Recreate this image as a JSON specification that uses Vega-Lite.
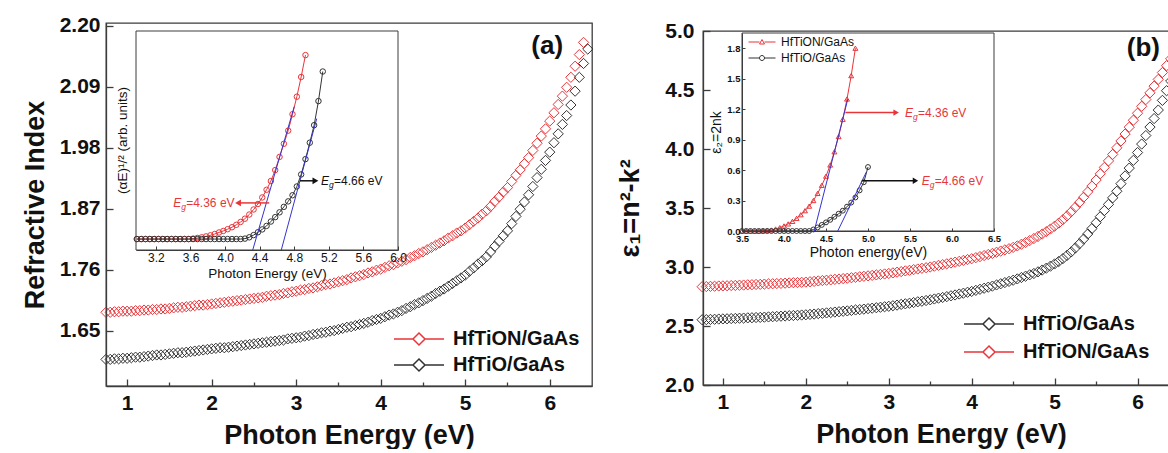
{
"$schema": "https://vega.github.io/schema/vega-lite/v6.json",
"background": "white",
"padding": {"left": 20, "top": 14, "right": 0, "bottom": 0},
"spacing": 20,
"config": {
  "font": "Liberation Sans",
  "view": {"stroke": "#3c3c3c", "strokeWidth": 1.3},
  "axis": {"grid": false, "domainColor": "#3c3c3c", "tickColor": "#3c3c3c", "labelColor": "#111111", "titleColor": "#111111", "labelFont": "Liberation Sans", "titleFont": "Liberation Sans", "labelFlush": false, "labelOverlap": false, "labelBound": false, "domainWidth": 1.3, "tickWidth": 1.3},
  "text": {"font": "Liberation Sans"},
  "legend": {"labelFont": "Liberation Sans"}
},
"datasets": {
"main": [
{"e":0.75,"a1":1.683,"a2":1.598,"b1":2.833,"b2":2.553},
{"e":0.80,"a1":1.683,"a2":1.598,"b1":2.834,"b2":2.554},
{"e":0.85,"a1":1.684,"a2":1.599,"b1":2.836,"b2":2.556},
{"e":0.90,"a1":1.684,"a2":1.599,"b1":2.837,"b2":2.557},
{"e":0.95,"a1":1.685,"a2":1.600,"b1":2.839,"b2":2.559},
{"e":1.00,"a1":1.685,"a2":1.600,"b1":2.840,"b2":2.560},
{"e":1.05,"a1":1.685,"a2":1.601,"b1":2.841,"b2":2.561},
{"e":1.10,"a1":1.686,"a2":1.602,"b1":2.843,"b2":2.563},
{"e":1.15,"a1":1.686,"a2":1.602,"b1":2.844,"b2":2.564},
{"e":1.20,"a1":1.687,"a2":1.603,"b1":2.846,"b2":2.566},
{"e":1.25,"a1":1.687,"a2":1.604,"b1":2.847,"b2":2.567},
{"e":1.30,"a1":1.688,"a2":1.605,"b1":2.849,"b2":2.569},
{"e":1.35,"a1":1.688,"a2":1.606,"b1":2.850,"b2":2.570},
{"e":1.40,"a1":1.689,"a2":1.606,"b1":2.852,"b2":2.572},
{"e":1.45,"a1":1.689,"a2":1.607,"b1":2.853,"b2":2.573},
{"e":1.50,"a1":1.690,"a2":1.608,"b1":2.855,"b2":2.575},
{"e":1.55,"a1":1.691,"a2":1.609,"b1":2.857,"b2":2.577},
{"e":1.60,"a1":1.692,"a2":1.610,"b1":2.858,"b2":2.579},
{"e":1.65,"a1":1.692,"a2":1.610,"b1":2.860,"b2":2.581},
{"e":1.70,"a1":1.693,"a2":1.611,"b1":2.861,"b2":2.583},
{"e":1.75,"a1":1.694,"a2":1.612,"b1":2.863,"b2":2.585},
{"e":1.80,"a1":1.695,"a2":1.613,"b1":2.865,"b2":2.587},
{"e":1.85,"a1":1.696,"a2":1.614,"b1":2.867,"b2":2.589},
{"e":1.90,"a1":1.696,"a2":1.615,"b1":2.868,"b2":2.591},
{"e":1.95,"a1":1.697,"a2":1.616,"b1":2.870,"b2":2.593},
{"e":2.00,"a1":1.698,"a2":1.617,"b1":2.872,"b2":2.595},
{"e":2.05,"a1":1.699,"a2":1.618,"b1":2.875,"b2":2.598},
{"e":2.10,"a1":1.700,"a2":1.619,"b1":2.878,"b2":2.601},
{"e":2.15,"a1":1.701,"a2":1.619,"b1":2.882,"b2":2.605},
{"e":2.20,"a1":1.702,"a2":1.620,"b1":2.885,"b2":2.608},
{"e":2.25,"a1":1.703,"a2":1.621,"b1":2.888,"b2":2.611},
{"e":2.30,"a1":1.704,"a2":1.622,"b1":2.891,"b2":2.614},
{"e":2.35,"a1":1.705,"a2":1.623,"b1":2.895,"b2":2.618},
{"e":2.40,"a1":1.706,"a2":1.624,"b1":2.898,"b2":2.621},
{"e":2.45,"a1":1.707,"a2":1.625,"b1":2.902,"b2":2.625},
{"e":2.50,"a1":1.708,"a2":1.626,"b1":2.905,"b2":2.628},
{"e":2.55,"a1":1.709,"a2":1.627,"b1":2.909,"b2":2.632},
{"e":2.60,"a1":1.710,"a2":1.628,"b1":2.913,"b2":2.636},
{"e":2.65,"a1":1.712,"a2":1.629,"b1":2.917,"b2":2.639},
{"e":2.70,"a1":1.713,"a2":1.630,"b1":2.921,"b2":2.643},
{"e":2.75,"a1":1.714,"a2":1.631,"b1":2.925,"b2":2.647},
{"e":2.80,"a1":1.715,"a2":1.632,"b1":2.929,"b2":2.651},
{"e":2.85,"a1":1.717,"a2":1.633,"b1":2.933,"b2":2.655},
{"e":2.90,"a1":1.718,"a2":1.635,"b1":2.937,"b2":2.659},
{"e":2.95,"a1":1.720,"a2":1.636,"b1":2.941,"b2":2.663},
{"e":3.00,"a1":1.721,"a2":1.637,"b1":2.945,"b2":2.667},
{"e":3.05,"a1":1.723,"a2":1.638,"b1":2.950,"b2":2.672},
{"e":3.10,"a1":1.724,"a2":1.640,"b1":2.956,"b2":2.677},
{"e":3.15,"a1":1.726,"a2":1.641,"b1":2.961,"b2":2.683},
{"e":3.20,"a1":1.727,"a2":1.643,"b1":2.967,"b2":2.688},
{"e":3.25,"a1":1.729,"a2":1.644,"b1":2.972,"b2":2.693},
{"e":3.30,"a1":1.731,"a2":1.646,"b1":2.978,"b2":2.699},
{"e":3.35,"a1":1.733,"a2":1.647,"b1":2.983,"b2":2.705},
{"e":3.40,"a1":1.734,"a2":1.649,"b1":2.989,"b2":2.710},
{"e":3.45,"a1":1.736,"a2":1.650,"b1":2.994,"b2":2.716},
{"e":3.50,"a1":1.738,"a2":1.652,"b1":3.000,"b2":2.722},
{"e":3.55,"a1":1.740,"a2":1.654,"b1":3.007,"b2":2.729},
{"e":3.60,"a1":1.742,"a2":1.656,"b1":3.014,"b2":2.736},
{"e":3.65,"a1":1.745,"a2":1.657,"b1":3.020,"b2":2.742},
{"e":3.70,"a1":1.747,"a2":1.659,"b1":3.027,"b2":2.749},
{"e":3.75,"a1":1.749,"a2":1.661,"b1":3.034,"b2":2.756},
{"e":3.80,"a1":1.751,"a2":1.663,"b1":3.041,"b2":2.763},
{"e":3.85,"a1":1.754,"a2":1.665,"b1":3.048,"b2":2.771},
{"e":3.90,"a1":1.756,"a2":1.668,"b1":3.056,"b2":2.778},
{"e":3.95,"a1":1.759,"a2":1.670,"b1":3.063,"b2":2.786},
{"e":4.00,"a1":1.761,"a2":1.672,"b1":3.070,"b2":2.793},
{"e":4.05,"a1":1.764,"a2":1.675,"b1":3.079,"b2":2.802},
{"e":4.10,"a1":1.767,"a2":1.678,"b1":3.088,"b2":2.811},
{"e":4.15,"a1":1.769,"a2":1.680,"b1":3.097,"b2":2.820},
{"e":4.20,"a1":1.772,"a2":1.683,"b1":3.106,"b2":2.829},
{"e":4.25,"a1":1.775,"a2":1.686,"b1":3.115,"b2":2.838},
{"e":4.30,"a1":1.778,"a2":1.690,"b1":3.125,"b2":2.848},
{"e":4.35,"a1":1.782,"a2":1.693,"b1":3.135,"b2":2.858},
{"e":4.40,"a1":1.785,"a2":1.697,"b1":3.145,"b2":2.868},
{"e":4.45,"a1":1.789,"a2":1.700,"b1":3.155,"b2":2.878},
{"e":4.50,"a1":1.792,"a2":1.704,"b1":3.166,"b2":2.888},
{"e":4.55,"a1":1.796,"a2":1.708,"b1":3.179,"b2":2.899},
{"e":4.60,"a1":1.800,"a2":1.712,"b1":3.193,"b2":2.911},
{"e":4.65,"a1":1.804,"a2":1.717,"b1":3.208,"b2":2.922},
{"e":4.70,"a1":1.808,"a2":1.721,"b1":3.224,"b2":2.934},
{"e":4.75,"a1":1.812,"a2":1.725,"b1":3.241,"b2":2.945},
{"e":4.80,"a1":1.817,"a2":1.730,"b1":3.259,"b2":2.959},
{"e":4.85,"a1":1.821,"a2":1.735,"b1":3.279,"b2":2.974},
{"e":4.90,"a1":1.826,"a2":1.740,"b1":3.300,"b2":2.990},
{"e":4.95,"a1":1.830,"a2":1.745,"b1":3.322,"b2":3.007},
{"e":5.00,"a1":1.835,"a2":1.750,"b1":3.346,"b2":3.026},
{"e":5.05,"a1":1.841,"a2":1.757,"b1":3.372,"b2":3.047},
{"e":5.10,"a1":1.847,"a2":1.763,"b1":3.401,"b2":3.071},
{"e":5.15,"a1":1.853,"a2":1.770,"b1":3.433,"b2":3.098},
{"e":5.20,"a1":1.860,"a2":1.776,"b1":3.468,"b2":3.128},
{"e":5.25,"a1":1.866,"a2":1.783,"b1":3.506,"b2":3.161},
{"e":5.30,"a1":1.874,"a2":1.792,"b1":3.547,"b2":3.197},
{"e":5.35,"a1":1.883,"a2":1.802,"b1":3.591,"b2":3.237},
{"e":5.40,"a1":1.891,"a2":1.811,"b1":3.637,"b2":3.280},
{"e":5.45,"a1":1.900,"a2":1.821,"b1":3.686,"b2":3.326},
{"e":5.50,"a1":1.908,"a2":1.830,"b1":3.737,"b2":3.375},
{"e":5.55,"a1":1.919,"a2":1.843,"b1":3.790,"b2":3.426},
{"e":5.60,"a1":1.930,"a2":1.856,"b1":3.844,"b2":3.478},
{"e":5.65,"a1":1.940,"a2":1.869,"b1":3.899,"b2":3.531},
{"e":5.70,"a1":1.951,"a2":1.882,"b1":3.954,"b2":3.586},
{"e":5.75,"a1":1.962,"a2":1.895,"b1":4.010,"b2":3.642},
{"e":5.80,"a1":1.975,"a2":1.910,"b1":4.068,"b2":3.706},
{"e":5.85,"a1":1.988,"a2":1.926,"b1":4.127,"b2":3.772},
{"e":5.90,"a1":2.001,"a2":1.941,"b1":4.185,"b2":3.838},
{"e":5.95,"a1":2.014,"a2":1.957,"b1":4.244,"b2":3.904},
{"e":6.00,"a1":2.028,"a2":1.972,"b1":4.303,"b2":3.970},
{"e":6.05,"a1":2.043,"a2":1.989,"b1":4.362,"b2":4.042},
{"e":6.10,"a1":2.058,"a2":2.005,"b1":4.419,"b2":4.114},
{"e":6.15,"a1":2.073,"a2":2.022,"b1":4.476,"b2":4.186},
{"e":6.20,"a1":2.089,"a2":2.038,"b1":4.533,"b2":4.258},
{"e":6.25,"a1":2.107,"a2":2.057,"b1":4.590,"b2":4.330},
{"e":6.30,"a1":2.127,"a2":2.082,"b1":4.648,"b2":4.412},
{"e":6.35,"a1":2.148,"a2":2.107,"b1":4.706,"b2":4.494},
{"e":6.40,"a1":2.170,"a2":2.132,"b1":4.764,"b2":4.576},
{"e":6.45,"a1":null,"a2":2.158,"b1":4.822,"b2":4.658},
{"e":6.50,"a1":null,"a2":null,"b1":4.880,"b2":4.740}
],
"insetA": [
{"s":"r","e":2.98,"v":0.05},{"s":"r","e":3.03,"v":0.05},{"s":"r","e":3.08,"v":0.05},{"s":"r","e":3.13,"v":0.05},{"s":"r","e":3.18,"v":0.05},{"s":"r","e":3.23,"v":0.05},{"s":"r","e":3.28,"v":0.05},{"s":"r","e":3.33,"v":0.05},{"s":"r","e":3.38,"v":0.05},{"s":"r","e":3.43,"v":0.05},{"s":"r","e":3.48,"v":0.05},{"s":"r","e":3.53,"v":0.05},{"s":"r","e":3.58,"v":0.05},{"s":"r","e":3.63,"v":0.052},{"s":"r","e":3.68,"v":0.055},{"s":"r","e":3.73,"v":0.058},{"s":"r","e":3.78,"v":0.062},{"s":"r","e":3.83,"v":0.067},{"s":"r","e":3.88,"v":0.073},{"s":"r","e":3.93,"v":0.080},{"s":"r","e":3.98,"v":0.087},{"s":"r","e":4.03,"v":0.095},{"s":"r","e":4.08,"v":0.104},{"s":"r","e":4.13,"v":0.115},{"s":"r","e":4.18,"v":0.128},{"s":"r","e":4.23,"v":0.143},{"s":"r","e":4.28,"v":0.162},{"s":"r","e":4.33,"v":0.185},{"s":"r","e":4.38,"v":0.21},{"s":"r","e":4.43,"v":0.24},{"s":"r","e":4.48,"v":0.275},{"s":"r","e":4.53,"v":0.315},{"s":"r","e":4.58,"v":0.365},{"s":"r","e":4.63,"v":0.425},{"s":"r","e":4.68,"v":0.485},{"s":"r","e":4.73,"v":0.545},{"s":"r","e":4.78,"v":0.62},{"s":"r","e":4.83,"v":0.70},{"s":"r","e":4.88,"v":0.79},{"s":"r","e":4.93,"v":0.89},
{"s":"k","e":2.98,"v":0.05},{"s":"k","e":3.03,"v":0.05},{"s":"k","e":3.08,"v":0.05},{"s":"k","e":3.13,"v":0.05},{"s":"k","e":3.18,"v":0.05},{"s":"k","e":3.23,"v":0.05},{"s":"k","e":3.28,"v":0.05},{"s":"k","e":3.33,"v":0.05},{"s":"k","e":3.38,"v":0.05},{"s":"k","e":3.43,"v":0.05},{"s":"k","e":3.48,"v":0.05},{"s":"k","e":3.53,"v":0.05},{"s":"k","e":3.58,"v":0.05},{"s":"k","e":3.63,"v":0.05},{"s":"k","e":3.68,"v":0.05},{"s":"k","e":3.73,"v":0.05},{"s":"k","e":3.78,"v":0.05},{"s":"k","e":3.83,"v":0.05},{"s":"k","e":3.88,"v":0.05},{"s":"k","e":3.93,"v":0.05},{"s":"k","e":3.98,"v":0.05},{"s":"k","e":4.03,"v":0.05},{"s":"k","e":4.08,"v":0.05},{"s":"k","e":4.13,"v":0.05},{"s":"k","e":4.18,"v":0.05},{"s":"k","e":4.23,"v":0.052},{"s":"k","e":4.28,"v":0.058},{"s":"k","e":4.33,"v":0.068},{"s":"k","e":4.38,"v":0.081},{"s":"k","e":4.43,"v":0.094},{"s":"k","e":4.48,"v":0.110},{"s":"k","e":4.53,"v":0.130},{"s":"k","e":4.58,"v":0.150},{"s":"k","e":4.63,"v":0.172},{"s":"k","e":4.68,"v":0.197},{"s":"k","e":4.73,"v":0.222},{"s":"k","e":4.78,"v":0.250},{"s":"k","e":4.83,"v":0.290},{"s":"k","e":4.88,"v":0.345},{"s":"k","e":4.93,"v":0.415},{"s":"k","e":4.98,"v":0.490},{"s":"k","e":5.03,"v":0.570},{"s":"k","e":5.08,"v":0.680},{"s":"k","e":5.13,"v":0.815}
],
"insetB": [
{"s":"r","e":3.50,"v":0},{"s":"r","e":3.55,"v":0},{"s":"r","e":3.60,"v":0},{"s":"r","e":3.65,"v":0},{"s":"r","e":3.70,"v":0},{"s":"r","e":3.75,"v":0.002},{"s":"r","e":3.80,"v":0.005},{"s":"r","e":3.85,"v":0.01},{"s":"r","e":3.90,"v":0.02},{"s":"r","e":3.95,"v":0.033},{"s":"r","e":4.00,"v":0.05},{"s":"r","e":4.05,"v":0.07},{"s":"r","e":4.10,"v":0.095},{"s":"r","e":4.15,"v":0.125},{"s":"r","e":4.20,"v":0.16},{"s":"r","e":4.25,"v":0.20},{"s":"r","e":4.30,"v":0.245},{"s":"r","e":4.35,"v":0.30},{"s":"r","e":4.40,"v":0.37},{"s":"r","e":4.45,"v":0.45},{"s":"r","e":4.50,"v":0.54},{"s":"r","e":4.55,"v":0.65},{"s":"r","e":4.60,"v":0.78},{"s":"r","e":4.65,"v":0.93},{"s":"r","e":4.70,"v":1.10},{"s":"r","e":4.75,"v":1.30},{"s":"r","e":4.80,"v":1.53},{"s":"r","e":4.85,"v":1.80},
{"s":"k","e":3.50,"v":0},{"s":"k","e":3.55,"v":0},{"s":"k","e":3.60,"v":0},{"s":"k","e":3.65,"v":0},{"s":"k","e":3.70,"v":0},{"s":"k","e":3.75,"v":0},{"s":"k","e":3.80,"v":0},{"s":"k","e":3.85,"v":0},{"s":"k","e":3.90,"v":0},{"s":"k","e":3.95,"v":0},{"s":"k","e":4.00,"v":0},{"s":"k","e":4.05,"v":0},{"s":"k","e":4.10,"v":0},{"s":"k","e":4.15,"v":0},{"s":"k","e":4.20,"v":0},{"s":"k","e":4.25,"v":0},{"s":"k","e":4.30,"v":0},{"s":"k","e":4.35,"v":0.015},{"s":"k","e":4.40,"v":0.035},{"s":"k","e":4.45,"v":0.06},{"s":"k","e":4.50,"v":0.085},{"s":"k","e":4.55,"v":0.11},{"s":"k","e":4.60,"v":0.14},{"s":"k","e":4.65,"v":0.17},{"s":"k","e":4.70,"v":0.20},{"s":"k","e":4.75,"v":0.24},{"s":"k","e":4.80,"v":0.28},{"s":"k","e":4.85,"v":0.33},{"s":"k","e":4.90,"v":0.40},{"s":"k","e":4.95,"v":0.48},{"s":"k","e":5.00,"v":0.63}
],
"fitA": [{"s":"r","e":4.32,"v":0},{"s":"r","e":4.80,"v":0.655},{"s":"k","e":4.65,"v":0},{"s":"k","e":5.06,"v":0.60}],
"fitB": [{"s":"r","e":4.36,"v":0},{"s":"r","e":4.76,"v":1.30},{"s":"k","e":4.64,"v":0},{"s":"k","e":4.98,"v":0.58}]
},
"hconcat": [
{
 "width": 486, "height": 363,
 "layer": [
  {"layer": [
   {"data": {"name": "main"},
    "transform": [{"fold": ["a1", "a2"], "as": ["s", "v"]}],
    "mark": {"type": "point", "shape": "diamond", "filled": false, "size": 105, "strokeWidth": 1, "opacity": 1},
    "encoding": {
     "x": {"field": "e", "type": "quantitative", "scale": {"domain": [0.75, 6.5], "nice": false, "zero": false},
       "axis": {"orient": "bottom", "zindex": 1, "values": [1,1.5,2,2.5,3,3.5,4,4.5,5,5.5,6], "labelExpr": "(datum.value + 0.25) % 1 < 0.5 ? format(datum.value,'d') : ''", "tickSize": {"condition": {"test": "(datum.value + 0.25) % 1 >= 0.5", "value": -4}, "value": -7}, "labelFontSize": 21, "labelFontWeight": "bold", "labelPadding": 13, "title": "Photon Energy (eV)", "titleFontSize": 27, "titleFontWeight": "bold", "titlePadding": 6}},
     "y": {"field": "v", "type": "quantitative", "scale": {"domain": [1.55, 2.205], "nice": false, "zero": false},
       "axis": {"orient": "left", "zindex": 1, "values": [1.65,1.76,1.87,1.98,2.09,2.2], "format": ".2f", "tickSize": -7, "labelFontSize": 21, "labelFontWeight": "bold", "labelPadding": 13, "title": "Refractive Index", "titleFontSize": 27, "titleFontWeight": "bold", "titlePadding": 10}},
     "color": {"field": "s", "type": "nominal", "scale": {"domain": ["a1", "a2"], "range": ["#e8353a", "#333333"]},
       "legend": {"orient": "none", "legendX": 303, "legendY": 306, "title": null, "labelExpr": "datum.label === 'a1' ? 'HfTiON/GaAs' : 'HfTiO/GaAs'", "symbolType": "M-5,0H-1.2M1.2,0H5M0,-1.2L1.2,0L0,1.2L-1.2,0Z", "symbolSize": 100, "symbolStrokeWidth": 1.5, "symbolFillColor": "transparent", "labelFontSize": 20, "labelFontWeight": "bold", "labelColor": "#111111", "labelOffset": 24, "rowPadding": 6, "padding": 0}}
    }},
   {"data": {"values": [{}]},
    "mark": {"type": "text", "text": "(a)", "fontSize": 26, "fontWeight": "bold", "align": "center", "baseline": "middle", "color": "#111111"},
    "encoding": {"x": {"datum": 5.97}, "y": {"datum": 2.163}}}
  ]},
  {"layer": [
   {"data": {"values": [{}]},
    "mark": {"type": "rect", "fill": "white", "stroke": "#3c3c3c", "strokeWidth": 1},
    "encoding": {
     "x": {"datum": 2.97, "type": "quantitative", "scale": {"domain": [2.97, 6.0], "range": [30, 292], "nice": false, "zero": false},
       "axis": {"orient": "bottom", "offset": -136, "zindex": 1, "domainWidth": 1, "tickWidth": 1, "values": [3.2,3.6,4.0,4.4,4.8,5.2,5.6,6.0], "format": ".1f", "tickSize": -4, "labelFontSize": 12, "labelPadding": 6, "title": "Photon Energy (eV)", "titleFontSize": 13.5, "titleFontWeight": "normal", "titlePadding": 3}},
     "x2": {"datum": 6.0},
     "y": {"datum": 0, "type": "quantitative", "scale": {"domain": [0, 1], "range": [227, 8], "nice": false, "zero": false}, "axis": null},
     "y2": {"datum": 1}
    }},
   {"data": {"values": [{}]}, "mark": {"type": "text", "text": "(αE)¹/² (arb. units)", "angle": 270, "fontSize": 13.5, "color": "#111111", "align": "center", "baseline": "middle", "dx": 0, "dy": -13},
    "encoding": {"x": {"datum": 2.97}, "y": {"datum": 0.5}}},
   {"data": {"name": "insetA"}, "transform": [{"filter": "datum.s === 'r'"}],
    "mark": {"type": "line", "color": "#e8353a", "strokeWidth": 1},
    "encoding": {"x": {"field": "e", "type": "quantitative"}, "y": {"field": "v", "type": "quantitative"}}},
   {"data": {"name": "insetA"}, "transform": [{"filter": "datum.s === 'r'"}],
    "mark": {"type": "point", "shape": "circle", "filled": false, "size": 30, "strokeWidth": 1, "color": "#e8353a", "opacity": 1},
    "encoding": {"x": {"field": "e", "type": "quantitative"}, "y": {"field": "v", "type": "quantitative"}}},
   {"data": {"name": "insetA"}, "transform": [{"filter": "datum.s === 'k'"}],
    "mark": {"type": "line", "color": "#333333", "strokeWidth": 1},
    "encoding": {"x": {"field": "e", "type": "quantitative"}, "y": {"field": "v", "type": "quantitative"}}},
   {"data": {"name": "insetA"}, "transform": [{"filter": "datum.s === 'k'"}],
    "mark": {"type": "point", "shape": "circle", "filled": false, "size": 30, "strokeWidth": 1, "color": "#333333", "opacity": 1},
    "encoding": {"x": {"field": "e", "type": "quantitative"}, "y": {"field": "v", "type": "quantitative"}}},
   {"data": {"name": "fitA"},
    "mark": {"type": "line", "color": "#3434d0", "strokeWidth": 1},
    "encoding": {"x": {"field": "e", "type": "quantitative"}, "y": {"field": "v", "type": "quantitative"}, "detail": {"field": "s"}}},
   {"data": {"values": [{}]}, "mark": {"type": "rule", "color": "#e8353a", "strokeWidth": 1.5},
    "encoding": {"x": {"datum": 4.17}, "x2": {"datum": 4.51}, "y": {"datum": 0.215}}},
   {"data": {"values": [{}]}, "mark": {"type": "point", "shape": "triangle-left", "filled": true, "size": 45, "color": "#e8353a", "opacity": 1},
    "encoding": {"x": {"datum": 4.15}, "y": {"datum": 0.215}}},
   {"data": {"values": [{}]}, "mark": {"type": "text", "text": "E", "fontStyle": "italic", "fontSize": 12, "color": "#e8353a", "align": "left", "baseline": "middle"},
    "encoding": {"x": {"datum": 3.40}, "y": {"datum": 0.215}}},
   {"data": {"values": [{}]}, "mark": {"type": "text", "text": "g", "fontStyle": "italic", "fontSize": 8.5, "color": "#e8353a", "align": "left", "baseline": "middle", "dx": 8, "dy": 4},
    "encoding": {"x": {"datum": 3.40}, "y": {"datum": 0.215}}},
   {"data": {"values": [{}]}, "mark": {"type": "text", "text": "=4.36 eV", "fontSize": 12, "color": "#e8353a", "align": "left", "baseline": "middle", "dx": 13},
    "encoding": {"x": {"datum": 3.40}, "y": {"datum": 0.215}}},
   {"data": {"values": [{}]}, "mark": {"type": "rule", "color": "#111111", "strokeWidth": 1.5},
    "encoding": {"x": {"datum": 4.866}, "x2": {"datum": 5.03}, "y": {"datum": 0.316}}},
   {"data": {"values": [{}]}, "mark": {"type": "point", "shape": "triangle-right", "filled": true, "size": 45, "color": "#111111", "opacity": 1},
    "encoding": {"x": {"datum": 5.045}, "y": {"datum": 0.316}}},
   {"data": {"values": [{}]}, "mark": {"type": "text", "text": "E", "fontStyle": "italic", "fontSize": 12, "color": "#111111", "align": "left", "baseline": "middle"},
    "encoding": {"x": {"datum": 5.11}, "y": {"datum": 0.316}}},
   {"data": {"values": [{}]}, "mark": {"type": "text", "text": "g", "fontStyle": "italic", "fontSize": 8.5, "color": "#111111", "align": "left", "baseline": "middle", "dx": 8, "dy": 4},
    "encoding": {"x": {"datum": 5.11}, "y": {"datum": 0.316}}},
   {"data": {"values": [{}]}, "mark": {"type": "text", "text": "=4.66 eV", "fontSize": 12, "color": "#111111", "align": "left", "baseline": "middle", "dx": 13},
    "encoding": {"x": {"datum": 5.11}, "y": {"datum": 0.316}}}
  ]}
 ],
 "resolve": {"scale": {"x": "independent", "y": "independent", "color": "independent", "shape": "independent"}, "axis": {"x": "independent", "y": "independent"}, "legend": {"color": "independent", "shape": "independent"}}
},
{
 "spacing": -5,
 "vconcat": [
 {
  "width": 10, "height": 1,
  "view": {"stroke": null},
  "data": {"values": []},
  "mark": {"type": "point"},
  "encoding": {}
 },
 {
 "width": 476, "height": 354,
 "layer": [
  {"layer": [
   {"data": {"name": "main"},
    "transform": [{"fold": ["b2", "b1"], "as": ["s", "v"]}],
    "mark": {"type": "point", "shape": "diamond", "filled": false, "size": 105, "strokeWidth": 1, "opacity": 1},
    "encoding": {
     "x": {"field": "e", "type": "quantitative", "scale": {"domain": [0.76, 6.5], "nice": false, "zero": false},
       "axis": {"orient": "bottom", "zindex": 1, "values": [1,1.5,2,2.5,3,3.5,4,4.5,5,5.5,6], "labelExpr": "(datum.value + 0.25) % 1 < 0.5 ? format(datum.value,'d') : ''", "tickSize": {"condition": {"test": "(datum.value + 0.25) % 1 >= 0.5", "value": -4}, "value": -7}, "labelFontSize": 21, "labelFontWeight": "bold", "labelPadding": 13, "title": "Photon Energy (eV)", "titleFontSize": 27, "titleFontWeight": "bold", "titlePadding": 6}},
     "y": {"field": "v", "type": "quantitative", "scale": {"domain": [2.0, 5.0], "nice": false, "zero": false},
       "axis": {"orient": "left", "zindex": 1, "values": [2,2.25,2.5,2.75,3,3.25,3.5,3.75,4,4.25,4.5,4.75,5], "labelExpr": "(datum.value*4 + 0.5) % 2 < 1 ? format(datum.value,'.1f') : ''", "tickSize": {"condition": {"test": "(datum.value*4 + 0.5) % 2 >= 1", "value": -4}, "value": -7}, "labelFontSize": 21, "labelFontWeight": "bold", "labelPadding": 16, "title": "ε₁=n²-k²", "titleFontSize": 27, "titleFontWeight": "bold", "titlePadding": 20}},
     "color": {"field": "s", "type": "nominal", "scale": {"domain": ["b2", "b1"], "range": ["#333333", "#e8353a"]},
       "legend": {"orient": "none", "legendX": 276, "legendY": 283, "title": null, "labelExpr": "datum.label === 'b1' ? 'HfTiON/GaAs' : 'HfTiO/GaAs'", "symbolType": "M-5,0H-1.2M1.2,0H5M0,-1.2L1.2,0L0,1.2L-1.2,0Z", "symbolSize": 100, "symbolStrokeWidth": 1.5, "symbolFillColor": "transparent", "labelFontSize": 20, "labelFontWeight": "bold", "labelColor": "#111111", "labelOffset": 24, "rowPadding": 8, "padding": 0}}
    }},
   {"data": {"values": [{}]},
    "mark": {"type": "text", "text": "(b)", "fontSize": 26, "fontWeight": "bold", "align": "center", "baseline": "middle", "color": "#111111"},
    "encoding": {"x": {"datum": 6.07}, "y": {"datum": 4.856}}}
  ]},
  {"layer": [
   {"data": {"values": [{}]},
    "mark": {"type": "rect", "fill": "white", "stroke": "#3c3c3c", "strokeWidth": 1},
    "encoding": {
     "x": {"datum": 3.5, "type": "quantitative", "scale": {"domain": [3.5, 6.5], "range": [39, 291], "nice": false, "zero": false},
       "axis": {"orient": "bottom", "offset": -154, "zindex": 1, "domainWidth": 1, "tickWidth": 1, "values": [3.5,4,4.5,5,5.5,6,6.5], "format": ".1f", "tickSize": -3, "labelFontSize": 9.5, "labelFontWeight": "bold", "labelPadding": 5, "title": "Photon energy(eV)", "titleFontSize": 14, "titleFontWeight": "normal", "titlePadding": 3}},
     "x2": {"datum": 6.5},
     "y": {"datum": 0, "type": "quantitative", "scale": {"domain": [0, 1.95], "range": [200, 2], "nice": false, "zero": false},
       "axis": {"orient": "left", "offset": -39, "zindex": 1, "domainWidth": 1, "tickWidth": 1, "values": [0,0.3,0.6,0.9,1.2,1.5,1.8], "format": ".1f", "tickSize": -3, "labelFontSize": 9.5, "labelFontWeight": "bold", "labelPadding": 5, "title": "ε₂=2nk", "titleFontSize": 14, "titleFontWeight": "normal", "titlePadding": 3}},
     "y2": {"datum": 1.95}
    }},
   {"data": {"name": "insetB"}, "transform": [{"filter": "datum.s === 'r'"}],
    "mark": {"type": "line", "color": "#e8353a", "strokeWidth": 1},
    "encoding": {"x": {"field": "e", "type": "quantitative"}, "y": {"field": "v", "type": "quantitative"}}},
   {"data": {"name": "insetB"}, "transform": [{"filter": "datum.s === 'r'"}],
    "mark": {"type": "point", "shape": "triangle-up", "filled": false, "size": 24, "strokeWidth": 1, "color": "#e8353a", "opacity": 1},
    "encoding": {"x": {"field": "e", "type": "quantitative"}, "y": {"field": "v", "type": "quantitative"}}},
   {"data": {"name": "insetB"}, "transform": [{"filter": "datum.s === 'k'"}],
    "mark": {"type": "line", "color": "#333333", "strokeWidth": 1},
    "encoding": {"x": {"field": "e", "type": "quantitative"}, "y": {"field": "v", "type": "quantitative"}}},
   {"data": {"name": "insetB"}, "transform": [{"filter": "datum.s === 'k'"}],
    "mark": {"type": "point", "shape": "circle", "filled": false, "size": 24, "strokeWidth": 1, "color": "#333333", "opacity": 1},
    "encoding": {"x": {"field": "e", "type": "quantitative"}, "y": {"field": "v", "type": "quantitative"}}},
   {"data": {"name": "fitB"},
    "mark": {"type": "line", "color": "#3434d0", "strokeWidth": 1},
    "encoding": {"x": {"field": "e", "type": "quantitative"}, "y": {"field": "v", "type": "quantitative"}, "detail": {"field": "s"}}},
   {"data": {"name": "insetB"}, "transform": [{"filter": "false"}],
    "mark": {"type": "point", "filled": false, "strokeWidth": 1, "opacity": 1},
    "encoding": {"x": {"field": "e", "type": "quantitative"}, "y": {"field": "v", "type": "quantitative"},
     "color": {"field": "s", "type": "nominal", "scale": {"domain": ["r", "k"], "range": ["#e8353a", "#333333"]},
       "legend": {"orient": "none", "legendX": 53, "legendY": 5, "title": null, "labelExpr": "datum.label === 'r' ? 'HfTiON/GaAs' : 'HfTiO/GaAs'", "symbolSize": 25, "symbolStrokeWidth": 1, "symbolFillColor": "transparent", "labelFontSize": 12, "labelColor": "#111111", "labelOffset": 13, "rowPadding": 4, "padding": 0}},
     "shape": {"field": "s", "type": "nominal", "scale": {"domain": ["r", "k"], "range": ["M-5.4,0H-1M1,0H5.4M0,-1L1,0.8H-1Z", "M-5.4,0H-1M1,0H5.4M1,0A1,1,0,1,1,-1,0A1,1,0,1,1,1,0Z"]},
       "legend": {"orient": "none", "legendX": 53, "legendY": 5, "title": null, "labelExpr": "datum.label === 'r' ? 'HfTiON/GaAs' : 'HfTiO/GaAs'", "symbolSize": 25, "symbolStrokeWidth": 1, "symbolFillColor": "transparent", "labelFontSize": 12, "labelColor": "#111111", "labelOffset": 13, "rowPadding": 4, "padding": 0}}
    }},
   {"data": {"values": [{}]}, "mark": {"type": "rule", "color": "#e8353a", "strokeWidth": 1.5},
    "encoding": {"x": {"datum": 4.73}, "x2": {"datum": 5.32}, "y": {"datum": 1.166}}},
   {"data": {"values": [{}]}, "mark": {"type": "point", "shape": "triangle-right", "filled": true, "size": 40, "color": "#e8353a", "opacity": 1},
    "encoding": {"x": {"datum": 5.335}, "y": {"datum": 1.166}}},
   {"data": {"values": [{}]}, "mark": {"type": "text", "text": "E", "fontStyle": "italic", "fontSize": 12, "color": "#e8353a", "align": "left", "baseline": "middle"},
    "encoding": {"x": {"datum": 5.44}, "y": {"datum": 1.166}}},
   {"data": {"values": [{}]}, "mark": {"type": "text", "text": "g", "fontStyle": "italic", "fontSize": 8.5, "color": "#e8353a", "align": "left", "baseline": "middle", "dx": 8, "dy": 4},
    "encoding": {"x": {"datum": 5.44}, "y": {"datum": 1.166}}},
   {"data": {"values": [{}]}, "mark": {"type": "text", "text": "=4.36 eV", "fontSize": 12, "color": "#e8353a", "align": "left", "baseline": "middle", "dx": 13},
    "encoding": {"x": {"datum": 5.44}, "y": {"datum": 1.166}}},
   {"data": {"values": [{}]}, "mark": {"type": "rule", "color": "#111111", "strokeWidth": 1.5},
    "encoding": {"x": {"datum": 4.93}, "x2": {"datum": 5.55}, "y": {"datum": 0.495}}},
   {"data": {"values": [{}]}, "mark": {"type": "point", "shape": "triangle-right", "filled": true, "size": 40, "color": "#111111", "opacity": 1},
    "encoding": {"x": {"datum": 5.565}, "y": {"datum": 0.495}}},
   {"data": {"values": [{}]}, "mark": {"type": "text", "text": "E", "fontStyle": "italic", "fontSize": 12, "color": "#e8353a", "align": "left", "baseline": "middle"},
    "encoding": {"x": {"datum": 5.64}, "y": {"datum": 0.495}}},
   {"data": {"values": [{}]}, "mark": {"type": "text", "text": "g", "fontStyle": "italic", "fontSize": 8.5, "color": "#e8353a", "align": "left", "baseline": "middle", "dx": 8, "dy": 4},
    "encoding": {"x": {"datum": 5.64}, "y": {"datum": 0.495}}},
   {"data": {"values": [{}]}, "mark": {"type": "text", "text": "=4.66 eV", "fontSize": 12, "color": "#e8353a", "align": "left", "baseline": "middle", "dx": 13},
    "encoding": {"x": {"datum": 5.64}, "y": {"datum": 0.495}}}
  ]}
 ],
 "resolve": {"scale": {"x": "independent", "y": "independent", "color": "independent", "shape": "independent"}, "axis": {"x": "independent", "y": "independent"}, "legend": {"color": "independent", "shape": "independent"}}
 }
 ]
}
]
}
